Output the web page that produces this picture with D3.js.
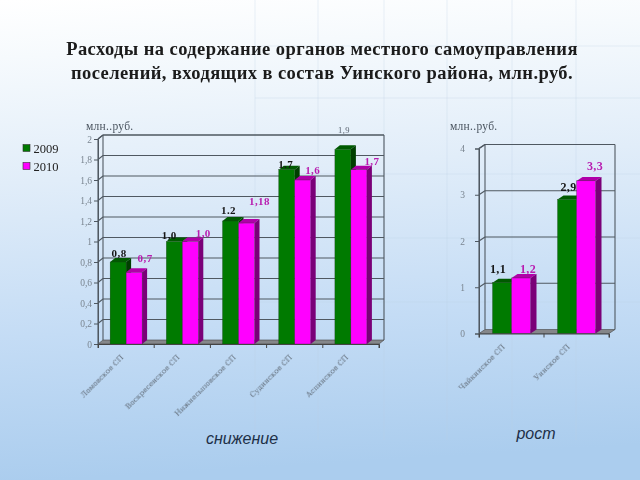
<!DOCTYPE html>
<html>
<head>
<meta charset="utf-8">
<script src="https://cdn.jsdelivr.net/npm/d3@7"></script>
<style>
  html, body { margin: 0; padding: 0; background: #bcd7f2; overflow: hidden; }
  svg { display: block; }
</style>
</head>
<body>
<svg id="chart" width="640" height="480"></svg>
<script>
const titleLines = [
  'Расходы на содержание органов местного самоуправления',
  'поселений, входящих в состав Уинского района, млн.руб.'
];
const seriesNames = ['2009', '2010'];

// left chart
const leftCategories = ['Ломовское СП', 'Воскресенское СП', 'Нижнесыповское СП', 'Судинское СП', 'Аспинское СП'];
const leftValues2009 = [0.8, 1.0, 1.2, 1.7, 1.9];
const leftValues2010 = [0.7, 1.0, 1.18, 1.6, 1.7];
const leftLabels2009 = ['0,8', '1,0', '1.2', '1.7', '1,9'];
const leftLabels2010 = ['0,7', '1,0', '1,18', '1,6', '1,7'];
const leftTicks = [0, 0.2, 0.4, 0.6, 0.8, 1, 1.2, 1.4, 1.6, 1.8, 2];

// right chart
const rightCategories = ['Чайкинское СП', 'Уинское СП'];
const rightValues2009 = [1.1, 2.9];
const rightValues2010 = [1.2, 3.3];
const rightLabels2009 = ['1,1', '2,9'];
const rightLabels2010 = ['1,2', '3,3'];
const rightTicks = [0, 1, 2, 3, 4];

const GREEN = '#007a00', GREEN_TOP = '#005a00', GREEN_SIDE = '#003f00';
const PINK = '#ff00ff', PINK_TOP = '#b000a8', PINK_SIDE = '#7a0078';

const svg = d3.select('#chart');
const defs = svg.append('defs');

const bg = defs.append('linearGradient').attr('id', 'bg')
  .attr('x1', 0).attr('y1', 0).attr('x2', 0.08).attr('y2', 1);
bg.append('stop').attr('offset', '0%').attr('stop-color', '#ffffff');
bg.append('stop').attr('offset', '12%').attr('stop-color', '#f6fafd');
bg.append('stop').attr('offset', '38%').attr('stop-color', '#e1edf9');
bg.append('stop').attr('offset', '70%').attr('stop-color', '#c4dcf5');
bg.append('stop').attr('offset', '100%').attr('stop-color', '#abcdee');

defs.append('filter').attr('id', 'soft').append('feGaussianBlur').attr('stdDeviation', 0.45);
defs.append('filter').attr('id', 'softer').append('feGaussianBlur').attr('stdDeviation', 0.25);

svg.append('rect').attr('width', 640).attr('height', 480).attr('fill', 'url(#bg)');

// faint squares of the slide background, right part only
const faint = svg.append('g').attr('stroke', '#b8cfe6').attr('stroke-opacity', 0.3).attr('fill', 'none');
[255, 318, 384, 447, 512, 576].forEach(x => {
  faint.append('line').attr('x1', x).attr('x2', x).attr('y1', 0).attr('y2', 440);
});
[46, 98, 174, 238, 302].forEach(y => {
  faint.append('line').attr('x1', 255).attr('x2', 640).attr('y1', y).attr('y2', y);
});

svg.append('g').selectAll('text').data(titleLines).join('text')
  .attr('x', 322)
  .attr('y', (d, i) => 55 + i * 24)
  .attr('text-anchor', 'middle')
  .attr('font-family', '"Liberation Serif", serif')
  .attr('font-weight', 'bold')
  .attr('font-size', 18.5)
  .attr('letter-spacing', 0.42)
  .attr('fill', '#1a1a1a')
  .attr('filter', 'url(#softer)')
  .text(d => d);

// legend
const legend = svg.append('g').attr('filter', 'url(#softer)');
seriesNames.forEach((name, i) => {
  const y = 145 + i * 18;
  legend.append('rect').attr('x', 23).attr('y', y - 0.5).attr('width', 7).attr('height', 7)
    .attr('fill', i === 0 ? GREEN : PINK).attr('stroke', '#333').attr('stroke-width', 0.6);
  legend.append('text').attr('x', 33.5).attr('y', y + 7.5)
    .attr('font-family', '"Liberation Serif", serif').attr('font-size', 12.5).attr('fill', '#222')
    .text(name);
});

function drawChart(opt) {
  const g = svg.append('g');
  const { left, right, bottom, top, dx, dy } = opt;

  const y = d3.scaleLinear().domain(opt.yDomain).range([bottom, top]);
  const x = d3.scaleBand().domain(opt.categories).range([left, right]);
  const barW = opt.barWidth;

  // walls
  const backLine = (x1, y1, x2, y2) => g.append('line')
    .attr('x1', x1).attr('y1', y1).attr('x2', x2).attr('y2', y2)
    .attr('stroke', '#4f5861').attr('stroke-width', 1.1);
  backLine(left + dx, top - dy, right + dx, top - dy);
  backLine(left + dx, top - dy, left + dx, bottom - dy);
  backLine(right + dx, top - dy, right + dx, bottom - dy);
  backLine(left, top, left, bottom);
  backLine(left, top, left + dx, top - dy);

  // floor
  g.append('polygon')
    .attr('points', [[left, bottom], [right, bottom], [right + dx, bottom - dy], [left + dx, bottom - dy]].join(' '))
    .attr('fill', '#85878a').attr('stroke', '#444').attr('stroke-width', 0.6);

  // gridlines on the back wall with a short slanted piece on the side wall
  opt.ticks.forEach(t => {
    if (t === 0) return;
    backLine(left + dx, y(t) - dy, right + dx, y(t) - dy);
    backLine(left, y(t), left + dx, y(t) - dy);
  });

  // bars
  const drawBar = (bx, v, front, topCol, side) => {
    const by = y(v);
    g.append('polygon')
      .attr('points', [[bx, by], [bx + dx, by - dy], [bx + barW + dx, by - dy], [bx + barW, by]].join(' '))
      .attr('fill', topCol);
    g.append('polygon')
      .attr('points', [[bx + barW, by], [bx + barW + dx, by - dy], [bx + barW + dx, bottom - dy], [bx + barW, bottom]].join(' '))
      .attr('fill', side);
    g.append('rect')
      .attr('x', bx).attr('y', by).attr('width', barW).attr('height', bottom - by)
      .attr('fill', front).attr('stroke', '#1c3a1c').attr('stroke-width', 0.3);
  };
  opt.categories.forEach((c, i) => {
    const mid = x(c) + x.bandwidth() / 2;
    drawBar(mid - barW, opt.values2009[i], GREEN, GREEN_TOP, GREEN_SIDE);
    drawBar(mid, opt.values2010[i], PINK, PINK_TOP, PINK_SIDE);
  });

  // axes
  const yAxis = g.append('g')
    .attr('transform', `translate(${left},0)`)
    .call(d3.axisLeft(y).tickValues(opt.ticks).tickSize(4).tickPadding(opt.tickPad)
      .tickFormat(d => String(d).replace('.', ',')));
  yAxis.select('.domain').attr('stroke', '#4f5861');
  yAxis.selectAll('line').attr('stroke', '#4f5861');
  yAxis.selectAll('text')
    .attr('font-family', '"Liberation Serif", serif').attr('font-size', 9.5).attr('fill', '#7a8590')
    .attr('filter', 'url(#soft)');

  const xAxis = g.append('g')
    .attr('transform', `translate(0,${bottom})`)
    .call(d3.axisBottom(x).tickSize(4).tickFormat(''));
  xAxis.select('.domain').attr('stroke', '#444');
  xAxis.selectAll('.tick line')
    .attr('stroke', '#444')
    .attr('transform', `translate(${-x.bandwidth() / 2},0)`);
  xAxis.append('line')
    .attr('x1', right).attr('x2', right).attr('y1', 0).attr('y2', 4).attr('stroke', '#444');

  // slanted category labels
  g.append('g').selectAll('text').data(opt.categories).join('text')
    .attr('transform', d => `translate(${x(d) + x.bandwidth() / 2 + opt.catShift},${bottom + 14}) rotate(-45)`)
    .attr('text-anchor', 'end')
    .attr('font-family', '"DejaVu Serif", serif')
    .attr('font-size', 7.4)
    .attr('fill', '#5f6a76')
    .attr('filter', 'url(#soft)')
    .text(d => d);

  // value labels, placed by hand in the original so each carries its own shift
  const valueLabels = (labels, values, side, colour, shifts) => {
    g.append('g').selectAll('text').data(labels).join('text')
      .attr('x', (d, i) => x(opt.categories[i]) + x.bandwidth() / 2 + side * barW / 2 + shifts[i][0])
      .attr('y', (d, i) => y(values[i]) + shifts[i][1])
      .attr('text-anchor', 'middle')
      .attr('font-family', '"Liberation Serif", serif')
      .attr('font-weight', (d, i) => (side < 0 && i === opt.fadedIndex) ? 'normal' : 'bold')
      .attr('font-size', (d, i) => (side < 0 && i === opt.fadedIndex) ? 8.5 : opt.labelSize)
      .attr('letter-spacing', 0.4)
      .attr('fill', (d, i) => (side < 0 && i === opt.fadedIndex) ? '#5a6470' : colour)
      .attr('filter', 'url(#softer)')
      .text(d => d);
  };
  valueLabels(opt.labels2009, opt.values2009, -1, '#151515', opt.shift2009);
  valueLabels(opt.labels2010, opt.values2010, 1, '#b81cb0', opt.shift2010);

  svg.append('text').attr('x', opt.unitX).attr('y', 130)
    .attr('font-family', '"Liberation Serif", serif').attr('font-size', 11.5).attr('letter-spacing', 0.3).attr('fill', '#4b5560')
    .attr('filter', 'url(#softer)')
    .text('млн..руб.');

  svg.append('text').attr('x', opt.noteX).attr('y', opt.noteY)
    .attr('text-anchor', 'middle')
    .attr('font-family', '"Liberation Sans", sans-serif').attr('font-style', 'italic').attr('font-size', 16)
    .attr('fill', '#1e3048')
    .text(opt.note);
}

drawChart({
  categories: leftCategories, values2009: leftValues2009, values2010: leftValues2010,
  labels2009: leftLabels2009, labels2010: leftLabels2010,
  yDomain: [0, 2], ticks: leftTicks,
  left: 98, right: 379, bottom: 344, top: 139, dx: 5, dy: 4,
  barWidth: 16, labelSize: 11, catShift: -2, tickPad: 2, fadedIndex: 4,
  shift2009: [[1, -5], [-5, -2.5], [-2, -7], [-1, -2], [1, -16]],
  shift2010: [[11, -10], [13, -5], [13, -18], [10, -6], [13, -5]],
  unitX: 86, noteX: 242, noteY: 444, note: 'снижение'
});

drawChart({
  categories: rightCategories, values2009: rightValues2009, values2010: rightValues2010,
  labels2009: rightLabels2009, labels2010: rightLabels2010,
  yDomain: [0, 4], ticks: rightTicks,
  left: 479, right: 609, bottom: 333.5, top: 148.5, dx: 6, dy: 4,
  barWidth: 19, labelSize: 12, catShift: -6, tickPad: 10, fadedIndex: -1,
  shift2009: [[-4, -9.6], [1.5, -8]],
  shift2010: [[7, -5], [9, -11]],
  unitX: 450, noteX: 536, noteY: 439, note: 'рост'
});
</script>
</body>
</html>
